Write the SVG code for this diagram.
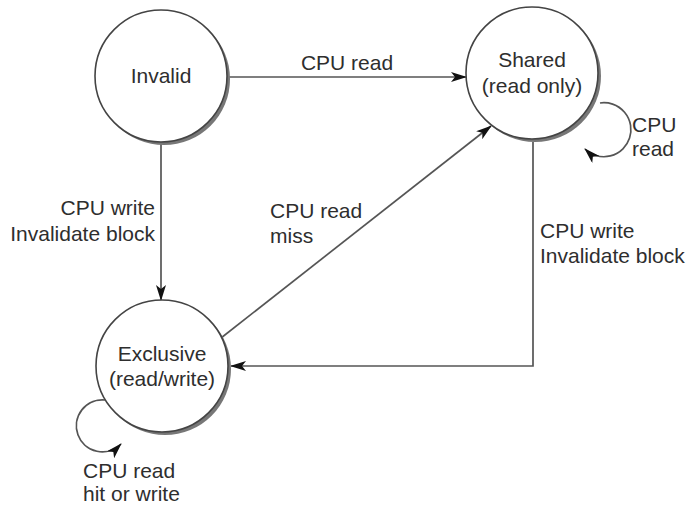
<svg xmlns="http://www.w3.org/2000/svg" width="687" height="506" viewBox="0 0 687 506">
<defs>
<style>
text{font-family:"Liberation Sans",Arial,sans-serif;font-size:21px;fill:#2e2e2e}
.mid{text-anchor:middle}
.end{text-anchor:end}
.shadow{fill:#777;stroke:none}
.state{fill:#fff;stroke:#444;stroke-width:1.6}
.conn{fill:none;stroke:#555;stroke-width:1.7}
</style>
<marker id="arr" viewBox="0 0 16 10" refX="15" refY="5" markerWidth="16" markerHeight="10" markerUnits="userSpaceOnUse" orient="auto">
<path d="M0,0 L16,5 L0,10 L4,5 z" fill="#111"/>
</marker>
</defs>
<rect width="687" height="506" fill="#fff"/>
<g id="connectors">
<path class="conn" d="M227,77 L466,77" marker-end="url(#arr)"/>
<path class="conn" d="M161,143 L161,300" marker-end="url(#arr)"/>
<path class="conn" d="M221,338 L491,126" marker-end="url(#arr)"/>
<path class="conn" d="M533,142 L533,366 L231,366" marker-end="url(#arr)"/>
<path class="conn" d="M600,103 A27,27 0 1 1 585,149" marker-end="url(#arr)"/>
<path class="conn" d="M105,400 A26,26 0 1 0 121,444" marker-end="url(#arr)"/>
</g>
<g id="invalid">
<circle class="shadow" cx="164" cy="79" r="66"/>
<circle class="state" cx="161" cy="76" r="66"/>
<text class="mid" x="161" y="83">Invalid</text>
</g>
<g id="shared">
<circle class="shadow" cx="535" cy="76" r="66"/>
<circle class="state" cx="532" cy="73" r="66"/>
<text class="mid" x="532" y="67">Shared</text>
<text class="mid" x="532" y="93">(read only)</text>
</g>
<g id="exclusive">
<circle class="shadow" cx="165" cy="369" r="66"/>
<circle class="state" cx="162" cy="366" r="66"/>
<text class="mid" x="162" y="361">Exclusive</text>
<text class="mid" x="162" y="386">(read/write)</text>
</g>
<g id="labels">
<text class="mid" x="347" y="70">CPU read</text>
<text class="end" x="155" y="215">CPU write</text>
<text class="end" x="155" y="241">Invalidate block</text>
<text x="270" y="218">CPU read</text>
<text x="270" y="243">miss</text>
<text x="540" y="238">CPU write</text>
<text x="540" y="263">Invalidate block</text>
<text x="632" y="132">CPU</text>
<text x="632" y="156">read</text>
<text x="83" y="478">CPU read</text>
<text x="83" y="501">hit or write</text>
</g>
</svg>
